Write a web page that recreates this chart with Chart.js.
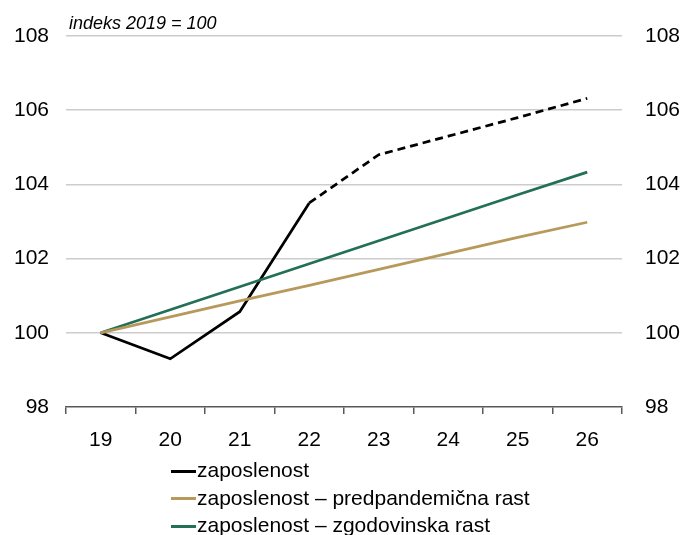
<!DOCTYPE html>
<html>
<head>
<meta charset="utf-8">
<script src="https://cdn.jsdelivr.net/npm/chart.js@4"></script>
<style>
  body { margin: 0; background: #fff; }
  #wrap { position: relative; width: 683px; height: 535px; }
  #legend { position: absolute; left: 171px; top: 456px; font-family: "Liberation Sans Narrow", "Arial Narrow", "Liberation Sans", sans-serif; font-size: 21px; color: #000; }
  #legend div { height: 27.5px; line-height: 27.5px; white-space: nowrap; }
  #legend span { display: inline-block; width: 25px; height: 3px; vertical-align: middle; margin-right: 1px; }
</style>
</head>
<body>
<div id="wrap">
  <canvas id="chart" width="683" height="535"></canvas>
  <div id="legend"></div>
</div>
<script>
var years = ["19", "20", "21", "22", "23", "24", "25", "26"];
var employment = [100, 99.3, 100.57, 103.5, 104.8, 105.3, 105.8, 106.32];
var projectionFrom = 3; // dashed from 22 onward
var prePandemic = [100, 100.43, 100.86, 101.28, 101.71, 102.14, 102.57, 102.98];
var historical = [100, 100.62, 101.24, 101.86, 102.48, 103.1, 103.72, 104.33];
var yTicks = [98, 100, 102, 104, 106, 108];

var names = ["zaposlenost", "zaposlenost – predpandemična rast", "zaposlenost – zgodovinska rast"];
var colors = ["#000000", "#b79a5b", "#236f58"];
var font = "'Liberation Sans Narrow', 'Arial Narrow', 'Liberation Sans', sans-serif";

var noteLabel = {
  id: "noteLabel",
  afterDraw: function(chart) {
    var ctx = chart.ctx;
    ctx.save();
    ctx.font = "italic 18px " + font;
    ctx.fillStyle = "#000";
    ctx.textBaseline = "alphabetic";
    ctx.fillText("indeks 2019 = 100", chart.chartArea.left + 3, 29);
    ctx.restore();
  }
};

var ctx = document.getElementById("chart").getContext("2d");
new Chart(ctx, {
  type: "line",
  data: {
    labels: years,
    datasets: [
      {
        label: names[1], data: prePandemic, borderColor: colors[1],
        borderWidth: 2.75, pointRadius: 0, tension: 0
      },
      {
        label: names[2], data: historical, borderColor: colors[2],
        borderWidth: 2.75, pointRadius: 0, tension: 0
      },
      {
        label: names[0], data: employment, borderColor: colors[0],
        borderWidth: 2.75, pointRadius: 0, tension: 0,
        segment: {
          borderDash: function(c) { return c.p0DataIndex >= projectionFrom ? [8, 5] : undefined; }
        }
      }
    ]
  },
  options: {
    responsive: false,
    animation: false,
    layout: { padding: { top: 36, bottom: 83, left: 0, right: 0 } },
    plugins: { legend: { display: false }, tooltip: { enabled: false } },
    scales: {
      x: {
        offset: true,
        grid: { offset: true, drawOnChartArea: false, tickLength: 7, color: "#595959", lineWidth: 1.5 },
        border: { color: "#595959", width: 1.5 },
        ticks: { color: "#000", font: { family: font, size: 21 }, padding: 14, maxRotation: 0 },
        afterFit: function(s) { s.height = 45; }
      },
      y: {
        position: "left", min: 98, max: 108,
        afterBuildTicks: function(s) { s.ticks = yTicks.map(function(v) { return { value: v }; }); },
        grid: {
          drawTicks: false, lineWidth: 1.5,
          color: function(c) { return c.tick && c.tick.value === 98 ? "rgba(0,0,0,0)" : "#cccccc"; }
        },
        border: { display: false },
        ticks: { color: "#000", font: { family: font, size: 21 }, padding: 17 },
        afterFit: function(s) { s.width = 66; }
      },
      y2: {
        position: "right", min: 98, max: 108, display: true,
        afterBuildTicks: function(s) { s.ticks = yTicks.map(function(v) { return { value: v }; }); },
        grid: { display: false, drawTicks: false },
        border: { display: false },
        ticks: { color: "#000", font: { family: font, size: 21 }, padding: 23 },
        afterFit: function(s) { s.width = 61; }
      }
    }
  },
  plugins: [noteLabel]
});

var legend = document.getElementById("legend");
[0, 1, 2].forEach(function(i) {
  legend.innerHTML += '<div><span style="background:' + colors[i] + '"></span>' + names[i] + '</div>';
});
</script>
</body>
</html>
